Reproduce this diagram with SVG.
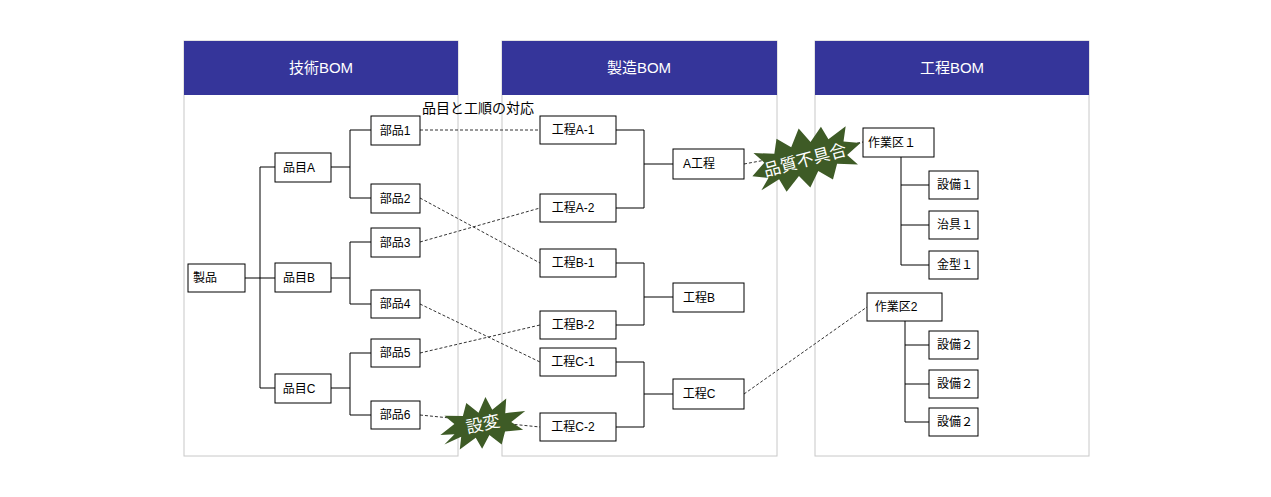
<svg xmlns="http://www.w3.org/2000/svg" width="1271" height="497" viewBox="0 0 1271 497">
<style>
.panel{fill:#fff;stroke:#c8c8c8;stroke-width:1}
.hdr{fill:#35359a}
.ht{font-family:"Liberation Sans","Noto Sans CJK JP",sans-serif;font-size:15px;fill:#fff;text-anchor:middle}
.n rect{fill:#fff;stroke:#000;stroke-width:1}
.n text{font-family:"Liberation Sans","Noto Sans CJK JP",sans-serif;font-size:12px;fill:#000;text-anchor:middle}
.t{fill:none;stroke:#000;stroke-width:1}
.d{fill:none;stroke:#333;stroke-width:1;stroke-dasharray:3,2}
.star{fill:#3e5b26}
.st{font-family:"Noto Sans CJK JP",sans-serif;font-size:17px;fill:#fff;text-anchor:middle}
</style>
<rect width="1271" height="497" fill="#fff"/>
<g id="panels">
<rect class="panel" x="184" y="41" width="274" height="415"/><rect class="hdr" x="184" y="41" width="274" height="54"/><text class="ht" x="321" y="73">技術BOM</text>
<rect class="panel" x="502" y="41" width="275" height="415"/><rect class="hdr" x="502" y="41" width="275" height="54"/><text class="ht" x="639" y="73">製造BOM</text>
<rect class="panel" x="815" y="41" width="274" height="415"/><rect class="hdr" x="815" y="41" width="274" height="54"/><text class="ht" x="952" y="73">工程BOM</text>
</g>
<text x="478" y="113" font-family="Liberation Sans,Noto Sans CJK JP,sans-serif" font-size="14" text-anchor="middle">品目と工順の対応</text>
<g id="connectors">
<path class="t" d="M245,278H260M260,167V388M260,167H275M260,278H275M260,388H275"/>
<path class="t" d="M331,167H350M350,130V198M350,130H371M350,198H371"/>
<path class="t" d="M331,278H350M350,242V304M350,242H371M350,304H371"/>
<path class="t" d="M331,388H350M350,353V415M350,353H371M350,415H371"/>
<path class="t" d="M616,130H644M616,208H644M644,130V208M644,164H673"/>
<path class="t" d="M616,263H644M616,325H644M644,263V325M644,297H673"/>
<path class="t" d="M616,362H644M616,427H644M644,362V427M644,394H673"/>
<path class="t" d="M901,157V265M901,185H929M901,225H929M901,265H929"/>
<path class="t" d="M905,321V422M905,345H929M905,384H929M905,422H929"/>
<path class="d" d="M420,130L540,130M420,198L540,263M420,242L540,208M420,304L540,362M420,353L540,325M420,415L540,427M744,164L863,142M744,394L867,307"/>
</g>
<g id="n-seihin" class="n"><rect x="188" y="264" width="57" height="28"/><text x="205" y="282">製品</text></g>
<g id="n-hinA" class="n"><rect x="275" y="153" width="56" height="29"/><text x="299" y="172">品目A</text></g>
<g id="n-hinB" class="n"><rect x="275" y="263" width="56" height="29"/><text x="299" y="282">品目B</text></g>
<g id="n-hinC" class="n"><rect x="275" y="374" width="56" height="29"/><text x="299" y="393">品目C</text></g>
<g id="n-b1" class="n"><rect x="371" y="116" width="49" height="29"/><text x="395" y="135">部品1</text></g>
<g id="n-b2" class="n"><rect x="371" y="184" width="49" height="29"/><text x="395" y="203">部品2</text></g>
<g id="n-b3" class="n"><rect x="371" y="228" width="49" height="29"/><text x="395" y="247">部品3</text></g>
<g id="n-b4" class="n"><rect x="371" y="290" width="49" height="28"/><text x="395" y="308">部品4</text></g>
<g id="n-b5" class="n"><rect x="371" y="339" width="49" height="28"/><text x="395" y="357">部品5</text></g>
<g id="n-b6" class="n"><rect x="371" y="401" width="49" height="28"/><text x="395" y="419">部品6</text></g>
<g id="n-a1" class="n"><rect x="540" y="116" width="76" height="28"/><text x="573" y="134">工程A-1</text></g>
<g id="n-a2" class="n"><rect x="540" y="194" width="76" height="28"/><text x="573" y="212">工程A-2</text></g>
<g id="n-bb1" class="n"><rect x="540" y="249" width="76" height="28"/><text x="573" y="267">工程B-1</text></g>
<g id="n-bb2" class="n"><rect x="540" y="311" width="76" height="28"/><text x="573" y="329">工程B-2</text></g>
<g id="n-c1" class="n"><rect x="540" y="348" width="76" height="28"/><text x="573" y="366">工程C-1</text></g>
<g id="n-c2" class="n"><rect x="540" y="413" width="76" height="28"/><text x="573" y="431">工程C-2</text></g>
<g id="n-ka" class="n"><rect x="673" y="149" width="71" height="30"/><text x="699" y="168">A工程</text></g>
<g id="n-kb" class="n"><rect x="673" y="283" width="71" height="29"/><text x="699" y="302">工程B</text></g>
<g id="n-kc" class="n"><rect x="673" y="379" width="71" height="30"/><text x="699" y="398">工程C</text></g>
<g id="n-s1" class="n"><rect x="863" y="128" width="71" height="29"/><text x="892" y="147">作業区１</text></g>
<g id="n-e1" class="n"><rect x="929" y="171" width="49" height="28"/><text x="955" y="189">設備１</text></g>
<g id="n-j1" class="n"><rect x="929" y="211" width="49" height="28"/><text x="955" y="229">治具１</text></g>
<g id="n-k1" class="n"><rect x="929" y="251" width="49" height="28"/><text x="955" y="269">金型１</text></g>
<g id="n-s2" class="n"><rect x="867" y="293" width="75" height="28"/><text x="896" y="311">作業区2</text></g>
<g id="n-e2" class="n"><rect x="929" y="331" width="49" height="28"/><text x="955" y="349">設備２</text></g>
<g id="n-e3" class="n"><rect x="929" y="370" width="49" height="28"/><text x="955" y="388">設備２</text></g>
<g id="n-e4" class="n"><rect x="929" y="408" width="49" height="28"/><text x="955" y="426">設備２</text></g>
<g id="burst1" transform="translate(805,160) rotate(-15)">
<polygon class="star" points="-55,2 -40,-8 -48,-20 -28,-14 -22,-28 -10,-16 2,-32 10,-16 24,-28 28,-14 48,-22 42,-8 58,-2 42,6 50,18 30,12 22,26 10,14 -2,28 -10,14 -26,26 -30,12 -50,18 -40,8"/>
<text class="st" x="0" y="6">品質不具合</text>
</g>
<g id="burst2" transform="translate(483,424) rotate(-12)">
<polygon class="star" points="-44,2 -28,-6 -36,-16 -18,-12 -12,-24 -2,-12 8,-26 12,-12 28,-20 24,-6 44,-4 28,4 38,14 20,12 14,24 4,12 -6,24 -10,12 -28,20 -24,8 -42,12 -30,4"/>
<text class="st" x="0" y="6">設変</text>
</g>
</svg>
